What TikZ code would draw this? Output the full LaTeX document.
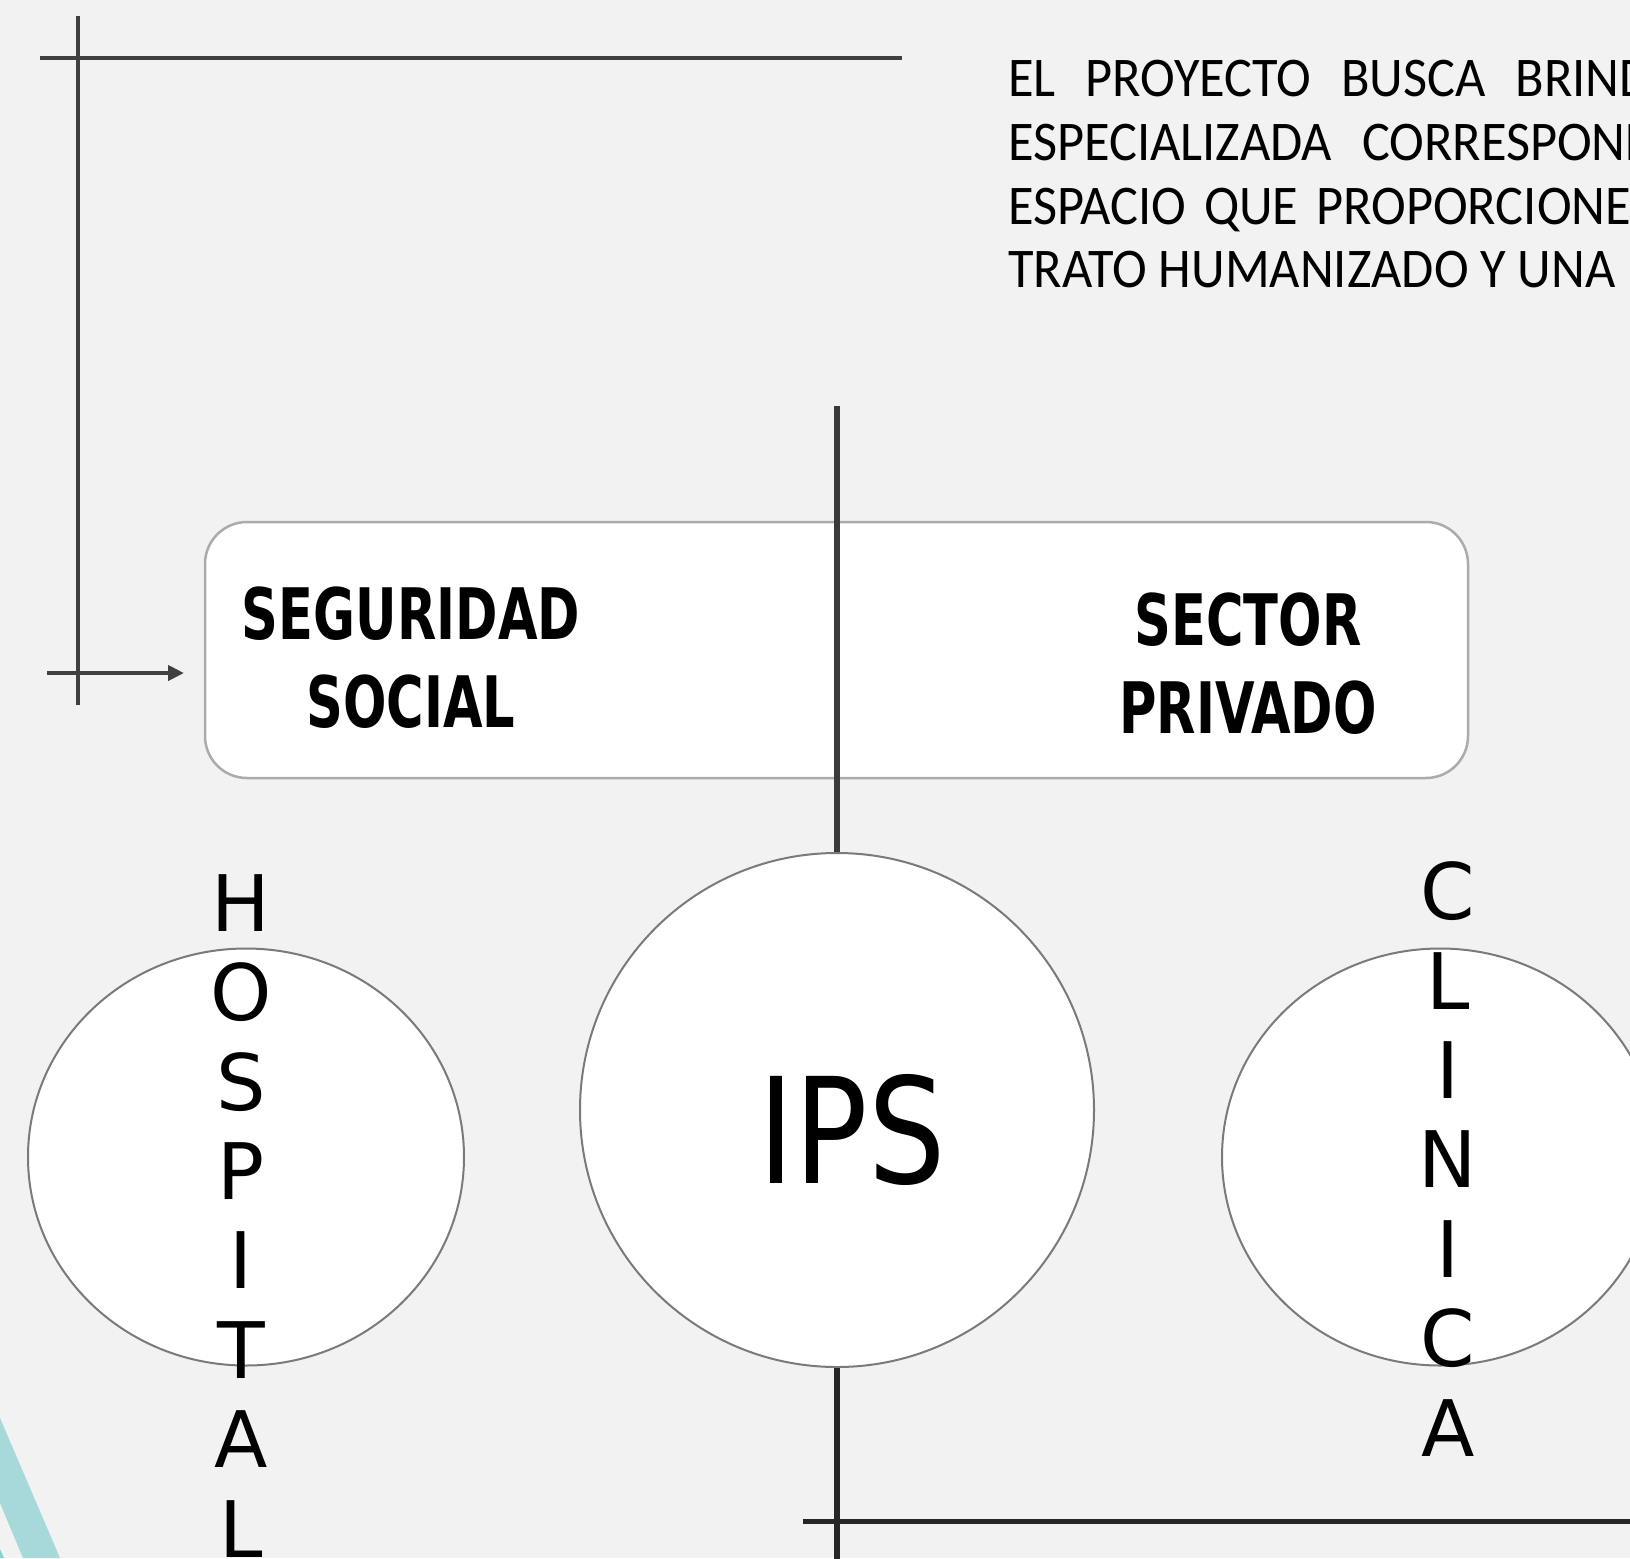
\documentclass[tikz,border=0pt]{standalone}
\usepackage{fontspec}
\setmainfont{Carlito}
\newfontfamily\paraf{Carlito}[FakeStretch=0.935]
\newfontfamily\dinf{DejaVu Sans}[FakeStretch=0.72]
\newfontfamily\ipsf{DejaVu Sans}[FakeStretch=0.83]
\newfontfamily\letf{DejaVu Sans}
\usetikzlibrary{positioning}
\usetikzlibrary{shapes.geometric}
\usetikzlibrary{arrows.meta}

\definecolor{bgcol}{HTML}{F2F2F2}
\definecolor{rulecol}{HTML}{404040}
\definecolor{stemcol}{HTML}{3A3A3A}
\definecolor{basecol}{HTML}{262626}
\definecolor{boxline}{HTML}{ABABAB}
\definecolor{ringline}{HTML}{7A7A7A}
\definecolor{teal1}{HTML}{A7D8DA}
\definecolor{teal2}{HTML}{7FD6D6}

\begin{document}
\begin{tikzpicture}[x=1pt, y=-1pt,
    panel/.style={draw=boxline, line width=2.5pt, fill=white, rounded corners=42pt,
      minimum width=1263pt, minimum height=256pt, inner sep=0pt},
    ring/.style={draw=ringline, line width=2pt, fill=white, inner sep=0pt},
    sectortext/.style={font=\dinf\bfseries\fontsize{71}{88.5}\selectfont,
      align=center, anchor=base, inner sep=0pt},
    column/.style={font=\letf\fontsize{78}{89.4}\selectfont,
      align=center, anchor=base, inner sep=0pt},
    paraline/.style={font=\paraf\fontsize{56}{64}\selectfont,
      anchor=base west, inner sep=0pt},
    guide/.style={draw=rulecol, line width=4pt},
    stem/.style={draw=stemcol, line width=6pt}]

  \useasboundingbox (0,0) rectangle (1630,1558);
  \clip (0,0) rectangle (1630,1558);
  \fill[bgcol] (0,0) rectangle (1630,1558);

  % teal stripes, bottom left
  \fill[teal1] (0,1418) -- (60,1558) -- (23,1558) -- (0,1503) -- cycle;
  \fill[teal2] (0,1549) -- (4,1558) -- (0,1558) -- cycle;

  % text block, top right
  \node[paraline] (l1) at (1008,96)  {\spaceskip=30pt\relax EL PROYECTO BUSCA BRINDAR};
  \node[paraline] (l2) at (1008,160) {\spaceskip=30pt\relax ESPECIALIZADA CORRESPONDIENTE};
  \node[paraline] (l3) at (1008,224) {\spaceskip=18pt\relax ESPACIO QUE PROPORCIONE};
  \node[paraline] (l4) at (1008,287) {TRATO HUMANIZADO Y UNA};

  % guides, top left
  \coordinate (gtop)   at (78,16);
  \coordinate (gbot)   at (78,705);
  \coordinate (hleft)  at (40,58);
  \coordinate (hright) at (902,58);
  \coordinate (astart) at (47,673);
  \coordinate (aend)   at (184,673);
  \draw[guide] (gtop) -- (gbot);
  \draw[guide] (hleft) -- (hright);
  \draw[guide, -{Triangle[length=16pt,width=15pt]}] (astart) -- (aend);

  % sectors (base = last line)
  \node[panel] (panel) at (836.5,650) {};
  \node[sectortext] (seg) at (411,727.5) {SEGURIDAD\\SOCIAL};
  \node[sectortext] (sec) at (1248,733.5) {SECTOR\\PRIVADO};

  % institutions
  \node[ring, ellipse, minimum width=436pt, minimum height=417pt] (hosp) at (246,1157) {};
  \node[ring, ellipse, minimum width=436pt, minimum height=417pt] (clin) at (1440,1157) {};
  \node[ring, circle, minimum size=514pt] (ips) at (837,1110) {};
  \node[font=\ipsf\fontsize{147}{147}\selectfont, anchor=base, inner sep=0pt] (ipslabel) at (852,1183) {IPS};
  \node[column] (hword) at (241,1557) {H\\O\\S\\P\\I\\T\\A\\L};
  \node[column] (cword) at (1448,1456) {C\\L\\I\\N\\I\\C\\A};

  % axis
  \coordinate (stemtop)   at (837,406);
  \coordinate (stembot)   at (837,1570);
  \coordinate (baseleft)  at (803,1521);
  \coordinate (baseright) at (1640,1521);
  \draw[stem] (stemtop) -- (ips.north);
  \draw[stem, draw=basecol] (ips.south) -- (stembot);
  \draw[draw=basecol, line width=5pt] (baseleft) -- (baseright);
\end{tikzpicture}
\end{document}
